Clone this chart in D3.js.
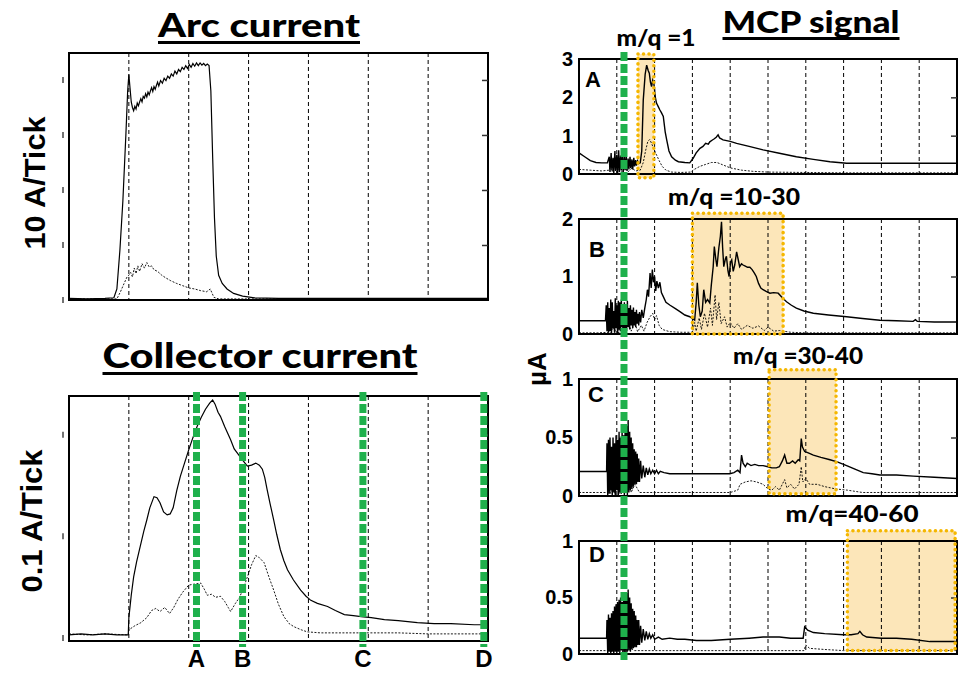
<!DOCTYPE html>
<html lang="en">
<head>
<meta charset="utf-8">
<script src="https://d3js.org/d3.v7.min.js"></script>
<title>Arc / collector current and MCP signal</title>
<style>
  body { margin:0; background:#fff; }
  svg { display:block; }
  .title { font-family: Lato, "Open Sans", sans-serif; font-weight:900; }
  .lab { font-family: "Liberation Sans", Arial, sans-serif; font-weight:bold; }
</style>
</head>
<body>
<svg id="fig" width="959" height="673"></svg>
<script>
// ---- data (x in grid divisions, y in ticks / uA) ----
const arcSolid = [[0,0.03],[0.3,0.02],[0.6,0.03],[0.75,0.04],[0.8,0.2],[0.85,0.9],[0.9,1.8],[0.95,3.0],[0.98,3.8],[1.0,4.1],[1.02,3.85],[1.04,3.6],[1.06,3.5],[1.08,3.44],[1.1,3.52],[1.12,3.47],[1.14,3.58],[1.16,3.53],[1.18,3.6],[1.2,3.66],[1.22,3.6],[1.24,3.7],[1.26,3.67],[1.28,3.75],[1.3,3.69],[1.32,3.78],[1.34,3.73],[1.36,3.8],[1.38,3.86],[1.4,3.79],[1.42,3.88],[1.44,3.83],[1.46,3.9],[1.48,3.96],[1.5,3.89],[1.53,3.99],[1.56,3.94],[1.59,4.03],[1.62,3.99],[1.65,4.07],[1.68,4.03],[1.71,4.11],[1.74,4.07],[1.77,4.16],[1.8,4.11],[1.83,4.19],[1.86,4.15],[1.89,4.23],[1.92,4.19],[1.95,4.26],[1.98,4.21],[2.01,4.28],[2.04,4.23],[2.07,4.3],[2.1,4.25],[2.13,4.31],[2.16,4.26],[2.19,4.31],[2.22,4.27],[2.25,4.3],[2.28,4.26],[2.31,4.29],[2.34,4.26],[2.37,3.8],[2.4,2.6],[2.43,1.5],[2.46,0.8],[2.5,0.45],[2.56,0.3],[2.64,0.2],[2.75,0.12],[2.9,0.07],[3.1,0.04],[3.5,0.03],[4.5,0.03],[5.5,0.03],[7,0.03]];
const arcDotted = [[0,0.02],[0.8,0.02],[0.86,0.15],[0.92,0.3],[0.97,0.42],[1.0,0.45],[1.03,0.5],[1.06,0.42],[1.09,0.58],[1.12,0.48],[1.15,0.62],[1.18,0.52],[1.22,0.66],[1.26,0.58],[1.3,0.68],[1.34,0.6],[1.38,0.62],[1.42,0.55],[1.48,0.52],[1.55,0.45],[1.62,0.4],[1.7,0.35],[1.8,0.3],[1.9,0.26],[2.0,0.22],[2.1,0.2],[2.2,0.17],[2.3,0.15],[2.36,0.2],[2.42,0.05],[2.5,0.02],[7,0.02]];

const collSolid = [[0,0.03],[0.2,0.04],[0.4,0.03],[0.6,0.04],[0.8,0.03],[0.99,0.03],[1.0,0.2],[1.04,0.42],[1.08,0.6],[1.13,0.75],[1.19,0.9],[1.25,1.05],[1.3,1.16],[1.35,1.28],[1.42,1.39],[1.47,1.38],[1.52,1.33],[1.58,1.24],[1.64,1.21],[1.69,1.22],[1.74,1.28],[1.8,1.45],[1.86,1.59],[1.93,1.72],[2.0,1.85],[2.07,1.97],[2.14,2.08],[2.21,2.17],[2.28,2.25],[2.35,2.31],[2.4,2.34],[2.44,2.3],[2.49,2.22],[2.53,2.18],[2.6,2.08],[2.7,1.95],[2.76,1.86],[2.81,1.82],[2.9,1.75],[2.98,1.69],[3.05,1.7],[3.12,1.72],[3.18,1.7],[3.23,1.66],[3.27,1.58],[3.31,1.46],[3.36,1.32],[3.42,1.16],[3.47,1.02],[3.53,0.87],[3.59,0.76],[3.65,0.67],[3.75,0.57],[3.87,0.47],[3.96,0.41],[4.04,0.37],[4.15,0.34],[4.32,0.31],[4.45,0.27],[4.6,0.23],[4.75,0.22],[4.88,0.21],[5.05,0.2],[5.27,0.18],[5.5,0.17],[5.82,0.15],[6.1,0.14],[6.38,0.14],[6.77,0.13],[7,0.13]];
const collDotted = [[0,0.04],[0.3,0.03],[0.6,0.04],[0.99,0.03],[1.0,0.08],[1.1,0.12],[1.2,0.15],[1.3,0.2],[1.38,0.27],[1.45,0.29],[1.52,0.26],[1.6,0.3],[1.68,0.24],[1.75,0.3],[1.82,0.38],[1.9,0.45],[2.0,0.52],[2.1,0.53],[2.2,0.54],[2.26,0.48],[2.31,0.42],[2.38,0.43],[2.45,0.4],[2.53,0.41],[2.6,0.36],[2.66,0.3],[2.7,0.26],[2.74,0.3],[2.78,0.34],[2.85,0.4],[2.92,0.5],[2.98,0.6],[3.05,0.72],[3.12,0.81],[3.18,0.79],[3.26,0.74],[3.34,0.6],[3.42,0.47],[3.5,0.33],[3.59,0.21],[3.68,0.14],[3.76,0.11],[3.88,0.08],[3.98,0.06],[4.2,0.05],[4.43,0.05],[5,0.05],[5.5,0.05],[6,0.04],[7,0.04]];
const markerX = [2.13, 2.9, 4.91, 6.93];
const markerNames = ["A", "B", "C", "D"];

const mcpASolid = [[0,0.55],[0.15,0.45],[0.3,0.35],[0.45,0.3],[0.6,0.29],[0.75,0.29],[0.8,0.45],[0.82,0.05],[0.85,0.55],[0.87,0.1],[0.9,0.42],[0.92,0.02],[0.95,0.6],[0.97,0.08],[1.0,0.5],[1.02,0.0],[1.05,0.62],[1.07,0.05],[1.1,0.48],[1.12,0.1],[1.15,0.55],[1.17,0.04],[1.2,0.45],[1.22,0.1],[1.25,0.5],[1.27,0.08],[1.3,0.4],[1.32,0.12],[1.35,0.45],[1.37,0.15],[1.4,0.38],[1.42,0.12],[1.45,0.42],[1.47,0.2],[1.5,0.36],[1.52,0.22],[1.55,0.34],[1.58,0.27],[1.62,0.29],[1.66,0.6],[1.7,1.93],[1.75,2.6],[1.79,2.84],[1.83,2.7],[1.86,2.63],[1.89,2.4],[1.92,2.28],[1.95,2.45],[1.98,2.37],[2.02,2.0],[2.05,1.85],[2.1,1.75],[2.14,1.67],[2.18,1.6],[2.23,1.5],[2.28,1.1],[2.32,0.89],[2.38,0.6],[2.45,0.45],[2.55,0.36],[2.63,0.32],[2.8,0.3],[2.93,0.29],[3.02,0.41],[3.1,0.55],[3.2,0.67],[3.28,0.72],[3.35,0.8],[3.42,0.78],[3.46,0.84],[3.52,0.88],[3.58,0.92],[3.63,0.96],[3.68,1.02],[3.72,0.94],[3.81,0.89],[4.0,0.85],[4.17,0.8],[4.5,0.72],[4.87,0.63],[5.3,0.54],[5.75,0.45],[6.2,0.38],[6.64,0.32],[7.08,0.28],[8,0.28],[9,0.28],[10,0.28]];
const mcpADotted = [[0,0.12],[0.3,0.1],[0.6,0.08],[0.8,0.1],[0.85,0.3],[0.88,0.05],[0.95,0.25],[1.0,0.04],[1.08,0.22],[1.14,0.05],[1.22,0.2],[1.3,0.06],[1.4,0.15],[1.5,0.08],[1.62,0.1],[1.7,0.3],[1.76,0.6],[1.82,0.85],[1.87,0.9],[1.92,0.8],[1.98,0.65],[2.05,0.5],[2.12,0.35],[2.2,0.2],[2.3,0.1],[2.45,0.05],[2.7,0.04],[2.95,0.05],[3.05,0.12],[3.2,0.2],[3.35,0.25],[3.5,0.3],[3.65,0.3],[3.8,0.24],[4.0,0.16],[4.3,0.1],[4.6,0.07],[5.0,0.05],[6,0.04],[7,0.03],[8,0.03],[10,0.03]];

const mcpBSolid = [[0,0.23],[0.3,0.23],[0.6,0.23],[0.7,0.23],[0.72,0.5],[0.74,0.05],[0.76,0.55],[0.78,0.02],[0.8,0.45],[0.82,0.05],[0.84,0.6],[0.86,0.0],[0.88,0.55],[0.9,0.1],[0.92,0.4],[0.94,0.02],[0.96,0.62],[0.98,0.1],[1.0,0.5],[1.02,0.0],[1.04,0.58],[1.06,0.08],[1.08,0.55],[1.1,0.05],[1.12,0.6],[1.14,0.12],[1.16,0.45],[1.18,0.05],[1.2,0.55],[1.22,0.1],[1.24,0.48],[1.26,0.05],[1.28,0.58],[1.3,0.12],[1.32,0.45],[1.34,0.08],[1.36,0.5],[1.38,0.15],[1.4,0.42],[1.42,0.1],[1.44,0.46],[1.46,0.15],[1.48,0.38],[1.5,0.12],[1.52,0.42],[1.54,0.18],[1.56,0.35],[1.58,0.15],[1.6,0.38],[1.63,0.2],[1.66,0.42],[1.7,0.28],[1.74,0.45],[1.78,0.6],[1.81,0.77],[1.84,0.65],[1.88,1.06],[1.91,0.8],[1.94,1.12],[1.97,0.9],[2.0,1.0],[2.03,0.75],[2.06,0.92],[2.1,0.8],[2.14,0.9],[2.18,0.72],[2.23,0.65],[2.3,0.55],[2.41,0.5],[2.55,0.44],[2.67,0.39],[2.8,0.33],[2.93,0.3],[3.02,0.26],[3.06,0.24],[3.1,0.55],[3.13,0.89],[3.17,0.5],[3.21,0.3],[3.26,0.4],[3.3,0.77],[3.35,0.55],[3.4,0.6],[3.46,0.54],[3.5,0.85],[3.55,1.17],[3.58,1.52],[3.62,1.3],[3.65,1.17],[3.7,1.5],[3.74,1.7],[3.77,1.95],[3.8,1.5],[3.83,1.17],[3.87,1.3],[3.9,1.35],[3.94,1.1],[3.97,1.0],[4.01,1.25],[4.04,1.29],[4.08,1.09],[4.12,1.2],[4.17,1.43],[4.21,1.3],[4.25,1.17],[4.3,1.22],[4.34,1.2],[4.4,1.18],[4.46,1.16],[4.52,1.16],[4.58,1.12],[4.64,1.06],[4.69,1.0],[4.75,0.88],[4.81,0.8],[4.87,0.77],[4.95,0.74],[5.05,0.71],[5.15,0.72],[5.27,0.71],[5.38,0.63],[5.49,0.56],[5.62,0.5],[5.75,0.45],[5.95,0.4],[6.2,0.36],[6.6,0.33],[7.08,0.3],[7.5,0.27],[7.96,0.24],[8.4,0.23],[8.84,0.22],[8.9,0.25],[8.95,0.22],[9.4,0.21],[10,0.21]];
const mcpBDotted = [[0,0.02],[0.5,0.02],[0.78,0.03],[0.82,0.2],[0.85,0.02],[0.9,0.15],[0.95,0.02],[1.0,0.25],[1.05,0.02],[1.12,0.18],[1.2,0.02],[1.3,0.22],[1.38,0.05],[1.48,0.2],[1.55,0.04],[1.65,0.15],[1.72,0.05],[1.8,0.2],[1.88,0.3],[1.95,0.36],[2.0,0.25],[2.05,0.32],[2.12,0.15],[2.2,0.08],[2.4,0.04],[2.7,0.03],[3.0,0.03],[3.06,0.2],[3.1,0.05],[3.18,0.28],[3.24,0.08],[3.32,0.36],[3.4,0.12],[3.48,0.45],[3.53,0.15],[3.6,0.68],[3.64,0.25],[3.7,0.55],[3.76,0.18],[3.85,0.3],[3.92,0.12],[4.0,0.2],[4.1,0.1],[4.2,0.18],[4.3,0.08],[4.45,0.15],[4.6,0.1],[4.75,0.14],[4.9,0.06],[5.0,0.12],[5.15,0.05],[5.3,0.06],[5.6,0.03],[6,0.02],[8,0.02],[10,0.02]];

const mcpCSolid = [[0,0.21],[0.3,0.21],[0.6,0.21],[0.73,0.21],[0.74,0.45],[0.76,0.0],[0.78,0.48],[0.8,0.02],[0.82,0.5],[0.84,0.05],[0.86,0.42],[0.88,0.0],[0.9,0.5],[0.92,0.03],[0.94,0.45],[0.96,0.0],[0.98,0.52],[1.0,0.05],[1.02,0.48],[1.04,0.0],[1.06,0.55],[1.08,0.03],[1.1,0.5],[1.12,0.02],[1.14,0.56],[1.16,0.05],[1.18,0.52],[1.2,0.0],[1.22,0.58],[1.24,0.04],[1.26,0.6],[1.28,0.0],[1.3,0.65],[1.32,0.03],[1.34,0.55],[1.36,0.05],[1.38,0.5],[1.4,0.06],[1.42,0.45],[1.44,0.08],[1.46,0.4],[1.48,0.1],[1.5,0.38],[1.52,0.1],[1.54,0.36],[1.56,0.12],[1.58,0.32],[1.6,0.12],[1.63,0.3],[1.66,0.15],[1.7,0.26],[1.74,0.16],[1.78,0.24],[1.82,0.18],[1.86,0.23],[1.9,0.19],[1.95,0.22],[2.0,0.19],[2.05,0.22],[2.1,0.19],[2.15,0.21],[2.25,0.2],[2.4,0.19],[2.6,0.19],[2.8,0.19],[3.0,0.19],[3.4,0.19],[3.7,0.19],[3.99,0.19],[4.1,0.2],[4.2,0.22],[4.26,0.2],[4.3,0.35],[4.34,0.28],[4.4,0.25],[4.45,0.28],[4.55,0.26],[4.65,0.27],[4.75,0.26],[4.87,0.26],[5.0,0.25],[5.1,0.24],[5.22,0.24],[5.3,0.25],[5.38,0.3],[5.44,0.35],[5.5,0.28],[5.57,0.28],[5.65,0.3],[5.72,0.28],[5.8,0.31],[5.84,0.3],[5.88,0.49],[5.91,0.42],[5.94,0.4],[5.97,0.38],[6.05,0.37],[6.2,0.35],[6.4,0.33],[6.64,0.31],[6.85,0.29],[7.08,0.26],[7.3,0.23],[7.52,0.2],[7.75,0.19],[7.96,0.18],[8.4,0.18],[8.84,0.17],[9.4,0.16],[10,0.15]];
const mcpCDotted = [[0,0.03],[0.5,0.03],[0.75,0.03],[0.8,0.15],[0.84,0.02],[0.9,0.2],[0.95,0.02],[1.02,0.22],[1.08,0.02],[1.15,0.18],[1.22,0.02],[1.3,0.2],[1.38,0.03],[1.48,0.1],[1.6,0.03],[1.8,0.03],[2.5,0.03],[3.5,0.03],[4.0,0.03],[4.2,0.05],[4.26,0.1],[4.4,0.12],[4.55,0.13],[4.7,0.12],[4.87,0.1],[5.0,0.06],[5.1,0.05],[5.2,0.08],[5.3,0.05],[5.44,0.14],[5.5,0.07],[5.6,0.1],[5.7,0.06],[5.82,0.1],[5.88,0.25],[5.92,0.12],[6.0,0.15],[6.1,0.1],[6.3,0.1],[6.5,0.08],[6.8,0.06],[7.1,0.05],[7.5,0.03],[8,0.03],[9,0.03],[10,0.03]];

const mcpDSolid = [[0,0.14],[0.3,0.14],[0.6,0.14],[0.73,0.14],[0.74,0.3],[0.76,0.0],[0.78,0.35],[0.8,0.02],[0.82,0.32],[0.84,0.0],[0.86,0.36],[0.88,0.02],[0.9,0.38],[0.92,0.0],[0.94,0.42],[0.96,0.02],[0.98,0.44],[1.0,0.0],[1.02,0.46],[1.04,0.02],[1.06,0.48],[1.08,0.0],[1.1,0.5],[1.12,0.03],[1.14,0.46],[1.16,0.0],[1.18,0.52],[1.2,0.02],[1.22,0.5],[1.24,0.0],[1.26,0.54],[1.28,0.02],[1.3,0.57],[1.32,0.03],[1.34,0.5],[1.36,0.02],[1.38,0.45],[1.4,0.04],[1.42,0.4],[1.44,0.05],[1.46,0.38],[1.48,0.06],[1.5,0.34],[1.52,0.06],[1.54,0.3],[1.56,0.08],[1.58,0.3],[1.6,0.08],[1.63,0.25],[1.66,0.1],[1.7,0.22],[1.74,0.12],[1.78,0.2],[1.82,0.13],[1.86,0.18],[1.9,0.14],[1.95,0.17],[2.0,0.13],[2.1,0.15],[2.2,0.13],[2.4,0.14],[2.6,0.13],[2.8,0.13],[3.11,0.12],[3.5,0.12],[4.0,0.13],[4.5,0.14],[4.87,0.15],[5.3,0.15],[5.6,0.14],[5.93,0.14],[5.97,0.24],[6.05,0.21],[6.2,0.19],[6.5,0.18],[6.99,0.17],[7.2,0.17],[7.38,0.18],[7.43,0.2],[7.5,0.17],[7.61,0.15],[8.0,0.14],[8.4,0.14],[8.8,0.13],[9.28,0.11],[10,0.11]];
const mcpDDotted = [[0,0.03],[0.75,0.03],[0.82,0.1],[0.86,0.02],[0.95,0.12],[1.0,0.02],[1.1,0.1],[1.2,0.02],[1.3,0.08],[1.45,0.03],[2,0.03],[3,0.03],[4,0.03],[5,0.03],[5.95,0.03],[6.0,0.08],[6.1,0.05],[6.5,0.04],[7,0.03],[8,0.03],[10,0.03]];

const mcpNames = ["A", "B", "C", "D"];
const mcpMax = [3, 2, 1, 1];
const mcpTicks = [[0,1,2,3], [0,1,2], [0,0.5,1], [0,0.5,1]];
const mqLabels = ["m/q =1", "m/q =10-30", "m/q =30-40", "m/q=40-60"];
const boxX0 = [1.56, 3.0, 5.03, 7.1];
const boxX1 = [1.98, 5.4, 6.8, 9.95];
const boxTop = [3.13, 2.1, 1.08, 1.09];
const boxBot = [-0.1, 0, 0.02, 0.03];
const mcpTrace = 1.19;

// ---- layout ----
const svg = d3.select("#fig");
svg.append("rect").attr("width", 959).attr("height", 673).attr("fill", "#fff");

const xL = d3.scaleLinear().domain([0, 7]).range([69, 488]);
const yArc = d3.scaleLinear().domain([0, 4.49]).range([300, 53]);
const yColl = d3.scaleLinear().domain([-0.03, 2.38]).range([641, 396]);
const xR = d3.scaleLinear().domain([0, 10]).range([579, 957]);
const mcpPix = [[174, 59], [334, 219], [496, 379], [654, 541]];
const yMcp = mcpMax.map((m, i) => d3.scaleLinear().domain([0, m]).range(mcpPix[i]));

const GREEN = "#1fb04c", GOLD = "#f5b700";

function grid(g, x, y, vals) {
  g.selectAll(null).data(vals).join("line")
    .attr("x1", d => x(d)).attr("x2", d => x(d))
    .attr("y1", y.range()[1]).attr("y2", y.range()[0])
    .attr("stroke", "#000").attr("stroke-width", 1).attr("stroke-dasharray", "4,3");
}
function curves(g, x, y, solid, dotted, w) {
  const line = d3.line().x(d => x(d[0])).y(d => y(d[1]));
  g.append("path").attr("d", line(dotted)).attr("fill", "none")
    .attr("stroke", "#000").attr("stroke-width", 0.9).attr("stroke-dasharray", "2,1.5");
  g.append("path").attr("d", line(solid)).attr("fill", "none")
    .attr("stroke", "#000").attr("stroke-width", w);
}
function frame(g, x, y) {
  g.append("rect")
    .attr("x", x.range()[0]).attr("y", y.range()[1])
    .attr("width", x.range()[1] - x.range()[0]).attr("height", y.range()[0] - y.range()[1])
    .attr("fill", "none").attr("stroke", "#000").attr("stroke-width", 2);
}
function innerTicks(g, x, y, vals) {
  g.append("g").attr("transform", `translate(${x.range()[1]},0)`)
    .call(d3.axisLeft(y).tickValues(vals).tickSize(6).tickFormat(""))
    .call(a => a.select(".domain").remove())
    .selectAll("line").attr("stroke", "#333").attr("stroke-width", 1.5);
}
function title(txt, cx, base, len, size) {
  svg.append("text").attr("class", "title").attr("x", cx).attr("y", base)
    .attr("text-anchor", "middle").attr("font-size", size)
    .attr("textLength", len).attr("lengthAdjust", "spacingAndGlyphs").text(txt);
  svg.append("rect").attr("x", cx - len / 2).attr("y", base + 4).attr("width", len).attr("height", 3).attr("fill", "#000");
}
function rotLabel(txt, bx, cy, size, len) {
  const t = svg.append("text").attr("class", "lab")
    .attr("transform", `translate(${bx},${cy}) rotate(-90)`)
    .attr("text-anchor", "middle").attr("font-size", size).text(txt);
  if (len) t.attr("textLength", len).attr("lengthAdjust", "spacingAndGlyphs");
}

// ---- Arc current ----
const gA = svg.append("g");
grid(gA, xL, yArc, [1, 2, 3, 4, 5, 6]);
curves(gA, xL, yArc, arcSolid, arcDotted, 1.2);
frame(gA, xL, yArc);
innerTicks(gA, xL, yArc, [1, 2, 3, 4]);
gA.selectAll(null).data([0, 1, 2, 3, 4]).join("line")
  .attr("x1", 63).attr("x2", 63).attr("y1", d => yArc(d) - 3).attr("y2", d => yArc(d) + 3)
  .attr("stroke", "#444").attr("stroke-width", 1.5);
title("Arc current", 259, 37, 202, 33);
rotLabel("10 A/Tick", 45, 183, 29, 133);

// ---- Collector current ----
const gC = svg.append("g");
grid(gC, xL, yColl, [1, 2, 3, 4, 5, 6]);
curves(gC, xL, yColl, collSolid, collDotted, 1.2);
frame(gC, xL, yColl);
innerTicks(gC, xL, yColl, [1, 2]);
gC.selectAll(null).data([0, 1, 2]).join("line")
  .attr("x1", 63).attr("x2", 63).attr("y1", d => yColl(d) - 3).attr("y2", d => yColl(d) + 3)
  .attr("stroke", "#444").attr("stroke-width", 1.5);
gC.selectAll(null).data(markerX).join("line")
  .attr("x1", d => xL(d)).attr("x2", d => xL(d)).attr("y1", 392).attr("y2", 647)
  .attr("stroke", GREEN).attr("stroke-width", 7).attr("stroke-dasharray", "9,3");
gC.selectAll(null).data(markerX).join("text").attr("class", "lab")
  .attr("x", d => xL(d)).attr("y", 667).attr("text-anchor", "middle").attr("font-size", 24)
  .text((d, i) => markerNames[i]);
title("Collector current", 260, 368, 315, 34);
rotLabel("0.1 A/Tick", 42, 521, 29, 143);

// ---- MCP signal panels ----
const mqPos = [[656, 46], [734, 205], [798, 364], [852, 522]];
const mqLen = [79, 132, 130, 133];
const letterPos = [[585, 87], [589, 257], [588, 402], [589, 562]];
yMcp.forEach((y, i) => {
  const g = svg.append("g");
  const bx0 = xR(boxX0[i]), bx1 = xR(boxX1[i]), by0 = y(boxTop[i]), by1 = y(boxBot[i]);
  g.append("rect").attr("x", bx0).attr("y", by0).attr("width", bx1 - bx0).attr("height", by1 - by0)
    .attr("fill", "#fbe2ad").attr("opacity", 0.85);
  grid(g, xR, y, d3.range(1, 10));
  curves(g, xR, y, [mcpASolid, mcpBSolid, mcpCSolid, mcpDSolid][i], [mcpADotted, mcpBDotted, mcpCDotted, mcpDDotted][i], 1.4);
  frame(g, xR, y);
  innerTicks(g, xR, y, mcpTicks[i].slice(1, -1));
  g.append("g").attr("transform", `translate(${xR.range()[0]},0)`)
    .call(d3.axisLeft(y).tickValues(mcpTicks[i]).tickSize(0).tickPadding(6).tickFormat(d3.format("~g")))
    .call(a => a.select(".domain").remove())
    .selectAll("text").attr("class", "lab").attr("font-size", 20).attr("fill", "#000");
  g.append("rect").attr("x", bx0).attr("y", by0).attr("width", bx1 - bx0).attr("height", by1 - by0)
    .attr("fill", "none").attr("stroke", GOLD).attr("stroke-width", 3.5)
    .attr("stroke-dasharray", "0.1,5.4").attr("stroke-linecap", "round");
  g.append("text").attr("class", "lab").attr("x", letterPos[i][0]).attr("y", letterPos[i][1])
    .attr("font-size", 22).text(mcpNames[i]);
  g.append("text").attr("class", "title").attr("x", mqPos[i][0]).attr("y", mqPos[i][1])
    .attr("text-anchor", "middle").attr("font-size", 22)
    .attr("textLength", mqLen[i]).attr("lengthAdjust", "spacingAndGlyphs").text(mqLabels[i]);
});
svg.append("line").attr("x1", xR(mcpTrace)).attr("x2", xR(mcpTrace)).attr("y1", 52).attr("y2", 660)
  .attr("stroke", GREEN).attr("stroke-width", 7).attr("stroke-dasharray", "9,3");
title("MCP signal", 811, 33, 177, 30);
rotLabel("µA", 546, 369, 26);
</script>
</body>
</html>
